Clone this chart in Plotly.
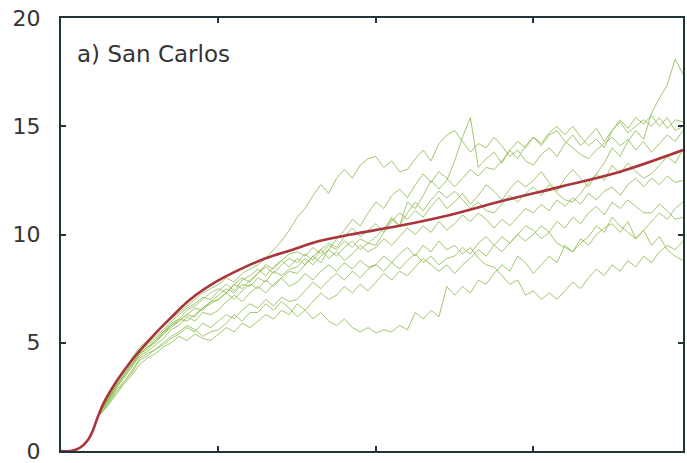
import plotly.graph_objects as go

# time grid for the simulated paths
T = [0.25, 0.30, 0.35, 0.40, 0.45, 0.50, 0.55, 0.60, 0.65, 0.70,
     0.75, 0.80, 0.85, 0.90, 0.95, 1.00, 1.05, 1.10, 1.15, 1.20,
     1.25, 1.30, 1.35, 1.40, 1.45, 1.50, 1.55, 1.60, 1.65, 1.70,
     1.75, 1.80, 1.85, 1.90, 1.95, 2.00, 2.05, 2.10, 2.15, 2.20,
     2.25, 2.30, 2.35, 2.40, 2.45, 2.50, 2.55, 2.60, 2.65, 2.70,
     2.75, 2.80, 2.85, 2.90, 2.95, 3.00, 3.05, 3.10, 3.15, 3.20,
     3.25, 3.30, 3.35, 3.40, 3.45, 3.50, 3.55, 3.60, 3.65, 3.70,
     3.75, 3.80, 3.85, 3.90, 3.95]

path1 = [1.8, 2.4, 3.0, 3.6, 4.0, 4.5, 4.8, 5.1, 5.5, 5.9, 6.1, 6.5, 6.7, 7.0, 7.3,
         7.5, 7.3, 7.7, 8.0, 7.8, 8.2, 8.5, 8.2, 8.6, 8.9, 8.7, 9.1, 8.8, 9.3, 9.6,
         9.4, 9.9, 10.3, 9.9, 10.2, 10.5, 10.1, 10.6, 11.0, 10.7, 11.1, 10.8, 11.3, 11.7, 11.2,
         11.5, 11.9, 11.4, 11.8, 12.3, 12.0, 11.6, 12.1, 12.5, 12.2, 12.5, 12.9, 12.4, 12.0, 12.6,
         13.0, 12.6, 12.2, 12.8, 13.3, 14.0, 13.6, 14.3, 14.8, 14.4, 15.6, 16.3, 16.9, 18.1, 17.4]
path2 = [1.9, 2.5, 3.2, 3.7, 4.3, 4.8, 5.1, 5.4, 5.8, 6.1, 6.4, 6.7, 7.0, 7.3, 7.5,
         7.7, 8.0, 7.8, 8.2, 8.4, 8.6, 8.9, 9.3, 9.7, 10.2, 10.8, 11.2, 11.8, 12.3, 11.9,
         12.6, 13.0, 12.6, 13.2, 13.5, 13.6, 13.1, 13.4, 12.9, 13.0, 13.5, 13.9, 13.4, 14.2, 14.6,
         14.8, 14.3, 13.8, 14.2, 14.0, 14.5, 14.1, 13.6, 13.9, 13.4, 13.2, 13.7, 14.0, 13.6, 14.2,
         14.6, 14.1, 14.5, 14.9, 14.3, 14.8, 15.2, 14.7, 15.0, 15.3, 15.0, 15.4, 14.9, 15.3, 15.2]
path3 = [1.8, 2.3, 2.9, 3.4, 3.9, 4.5, 4.7, 5.1, 5.4, 5.8, 6.0, 6.3, 6.6, 6.5, 6.9,
         7.2, 7.5, 7.3, 7.7, 7.6, 8.0, 7.8, 8.3, 8.1, 8.4, 8.5, 8.9, 8.6, 9.0, 9.3,
         9.0, 9.4, 9.7, 9.3, 9.6, 9.5, 10.1, 10.8, 10.4, 11.5, 11.2, 11.8, 12.5, 12.1, 12.5,
         13.4, 14.5, 15.4, 13.1, 13.5, 13.8, 13.3, 13.9, 14.3, 14.0, 14.5, 14.1, 14.6, 14.8, 14.3,
         14.0, 13.7, 13.5, 13.9, 14.2, 14.5, 14.1, 14.4, 13.9, 14.3, 13.8, 14.2, 14.6, 14.3, 14.8]
path4 = [1.7, 2.2, 2.8, 3.2, 3.7, 4.3, 4.5, 4.7, 5.0, 5.3, 5.5, 5.8, 5.6, 5.3, 5.5,
         5.6, 5.9, 6.3, 6.0, 6.4, 6.4, 6.8, 6.5, 6.9, 6.6, 6.2, 6.5, 6.1, 6.4, 6.0,
         5.8, 6.1, 5.7, 5.5, 5.7, 5.45, 5.6, 5.5, 5.8, 5.6, 6.4, 6.1, 6.5, 6.2, 7.6,
         7.2, 7.6, 7.3, 7.9, 7.7, 8.2, 8.6, 8.3, 9.0, 8.7, 8.2, 8.6, 9.0, 8.7, 9.5,
         9.2, 9.8, 9.5, 10.0, 10.3, 10.5, 10.1, 10.6, 9.8, 10.2, 10.6, 11.0, 10.7, 11.2, 11.5]
path5 = [1.8, 2.3, 2.9, 3.4, 3.9, 4.4, 4.6, 4.9, 5.2, 5.6, 5.8, 6.2, 6.0, 6.4, 6.3,
         6.5, 6.9, 7.2, 6.9, 7.3, 7.6, 7.3, 7.7, 8.0, 7.6, 7.8, 8.2, 7.9, 8.3, 8.6,
         8.3, 8.7, 8.4, 8.8, 8.5, 8.6, 9.0, 8.7, 9.1, 9.4, 9.0, 9.5, 9.2, 9.7, 9.3,
         9.5, 9.1, 9.4, 8.9, 8.6, 8.5, 8.1, 7.7, 7.9, 7.2, 7.4, 7.0, 7.3, 7.0, 7.4,
         7.8, 7.5, 8.0, 8.4, 8.1, 8.6, 8.3, 8.8, 8.5, 9.0, 8.7, 9.2, 9.5, 9.3, 9.7]
path6 = [1.9, 2.5, 3.1, 3.7, 4.2, 4.7, 5.0, 5.3, 5.6, 6.0, 6.3, 6.6, 6.8, 7.1, 7.0,
         7.4, 7.7, 7.4, 7.9, 8.1, 8.4, 8.1, 8.5, 8.8, 8.5, 8.9, 8.6, 9.0, 9.3, 8.9,
         9.2, 8.8, 9.1, 9.5, 9.2, 9.4, 9.8, 9.5, 9.9, 10.3, 10.0, 10.4, 10.1, 10.6, 10.2,
         10.5, 10.9, 10.6, 11.0, 10.7, 10.3, 10.7, 10.4, 10.8, 11.2, 11.0, 11.4, 11.1, 11.6, 11.3,
         11.7, 11.4, 11.9, 11.6, 12.0, 12.2, 11.8, 12.3, 12.6, 12.2, 12.6, 12.3, 12.7, 12.4, 12.5]
path7 = [1.7, 2.2, 2.7, 3.2, 3.6, 4.2, 4.4, 4.7, 4.9, 5.2, 5.4, 5.7, 5.5, 5.9, 5.7,
         6.0, 6.3, 6.1, 6.5, 6.8, 6.6, 7.0, 6.7, 7.1, 6.9, 7.0, 7.4, 7.8, 7.5, 7.9,
         8.2, 7.9, 8.3, 8.0, 8.4, 8.6, 8.3, 8.7, 8.4, 8.8, 9.1, 8.7, 9.0, 8.6, 8.9,
         9.0, 9.4, 9.1, 9.6, 9.9, 9.5, 9.9, 9.6, 10.0, 10.4, 10.2, 9.8, 10.1, 9.6, 9.4,
         9.2, 9.6, 9.9, 10.4, 10.1, 10.8, 10.4, 10.1, 9.8, 10.2, 9.5, 9.9, 9.3, 9.0, 8.8]
path8 = [1.9, 2.4, 3.0, 3.5, 4.1, 4.6, 4.9, 5.2, 5.5, 5.8, 6.1, 6.0, 6.3, 6.6, 6.9,
         7.0, 7.3, 7.0, 7.4, 7.7, 7.5, 7.9, 7.6, 8.0, 8.3, 8.2, 8.6, 9.0, 8.7, 9.3,
         9.8, 10.2, 10.7, 10.4, 11.0, 11.5, 11.2, 11.8, 12.1, 11.7, 12.3, 12.8, 12.4, 12.9, 12.6,
         12.2, 12.6, 13.0, 12.7, 13.1, 13.0, 13.4, 13.9, 13.5, 14.1, 14.5, 14.2, 14.7, 15.0, 14.6,
         15.0, 14.5, 14.1, 14.4, 14.0, 14.8, 15.3, 14.9, 15.4, 15.1, 15.5, 15.0, 15.4, 14.8, 15.0]
path9 = [1.7, 2.1, 2.6, 3.1, 3.5, 4.0, 4.3, 4.5, 4.8, 5.0, 5.3, 5.1, 5.4, 5.2, 5.1,
         5.4, 5.7, 5.5, 5.9, 5.7, 6.0, 6.3, 6.1, 6.5, 6.3, 6.8, 6.5, 6.9, 7.3, 7.0,
         7.2, 7.6, 7.3, 7.7, 7.4, 7.8, 8.2, 7.9, 8.3, 8.1, 8.5, 8.9, 8.6, 8.3, 8.6,
         8.2, 8.6, 8.9, 9.3, 9.0, 9.5, 9.2, 9.6, 10.0, 9.7, 10.0, 10.4, 10.1, 10.6, 10.3,
         10.8, 10.5, 11.0, 11.3, 10.9, 11.5, 11.2, 11.6, 11.3, 11.0, 11.0, 11.4, 11.1, 10.7, 10.8]
path10 = [1.8, 2.4, 3.0, 3.5, 4.0, 4.5, 4.8, 5.0, 5.4, 5.7, 6.0, 6.3, 6.2, 6.6, 6.8,
          7.0, 7.3, 7.7, 7.5, 7.9, 8.2, 8.6, 8.4, 8.8, 9.1, 9.2, 9.0, 9.4, 9.1, 9.5,
          9.3, 9.7, 9.4, 9.8, 9.6, 9.9, 10.3, 10.7, 10.4, 11.0, 11.5, 11.1, 11.6, 12.0, 11.7,
          12.0, 11.6, 11.2, 11.5, 11.1, 11.0, 11.4, 11.8, 11.5, 11.9, 12.2, 11.8, 12.3, 11.9, 11.6,
          11.5, 11.9, 12.4, 12.8, 12.5, 13.2, 12.8, 13.3, 12.9, 12.6, 12.8, 13.2, 13.6, 13.3, 13.9]

paths = [path1, path2, path3, path4, path5, path6, path7, path8, path9, path10]

# mean curve
mean_t = [0.0, 0.06, 0.12, 0.17, 0.20, 0.23, 0.27, 0.36, 0.44, 0.57, 0.69, 0.82, 0.98,
          1.14, 1.30, 1.47, 1.64, 1.84, 2.15, 2.47, 2.83, 3.17, 3.55, 3.95]
mean_y = [0.0, 0.0, 0.15, 0.5, 0.9, 1.5, 2.2, 3.3, 4.1, 5.2, 6.1, 7.0, 7.8,
          8.4, 8.9, 9.3, 9.7, 10.0, 10.4, 10.9, 11.6, 12.2, 12.9, 13.9]

y_ticks = [0, 5, 10, 15, 20]
x_ticks = [1, 2, 3]
panel_label = "a) San Carlos"

fig = go.Figure()
for p in paths:
    fig.add_trace(go.Scatter(x=T, y=p, mode="lines",
                             line=dict(color="rgba(138,186,74,0.8)", width=1),
                             showlegend=False, hoverinfo="skip"))
fig.add_trace(go.Scatter(x=mean_t, y=mean_y, mode="lines",
                         line=dict(color="#a8363a", width=2.6, shape="spline"),
                         showlegend=False))

axis_col = "#1f3536"
fig.update_layout(
    width=687, height=463,
    margin=dict(l=61, r=4, t=18, b=12, autoexpand=False),
    paper_bgcolor="white", plot_bgcolor="white",
    font=dict(family="DejaVu Sans, Liberation Sans, sans-serif", color="#333333"),
    xaxis=dict(range=[0, 3.95], tickvals=x_ticks, showticklabels=False,
               ticks="inside", ticklen=5, tickwidth=2, tickcolor=axis_col,
               showline=True, linecolor=axis_col, linewidth=2, mirror="allticks",
               showgrid=False, zeroline=False, automargin=False),
    yaxis=dict(range=[0, 20], tickvals=y_ticks, ticktext=[str(v) for v in y_ticks],
               ticks="inside", ticklen=5, tickwidth=2, tickcolor=axis_col,
               showline=True, linecolor=axis_col, linewidth=2, mirror="allticks",
               showgrid=False, zeroline=False, tickfont=dict(size=22, color="#333333"),
               ticklabelstandoff=14, ticklabeloverflow="allow", automargin=False),
    annotations=[dict(text=panel_label, xref="paper", yref="paper", x=0.022, y=0.917,
                      xanchor="left", yanchor="middle", showarrow=False,
                      font=dict(size=23, color="#333333"))],
)

# remove the default page margin so the figure sits at the window's corner
fig.write_html("out.html", config={"displayModeBar": False},
               post_script="document.body.style.margin='0';")
